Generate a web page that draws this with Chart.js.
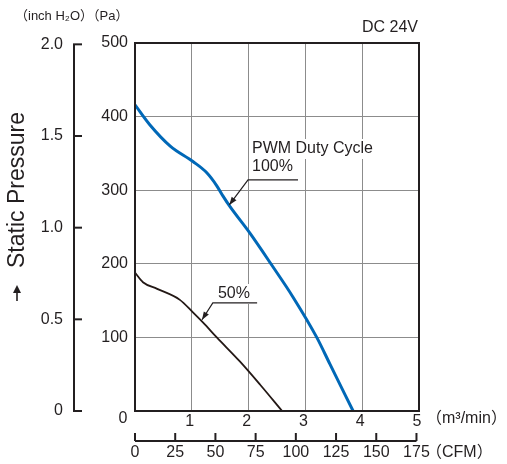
<!DOCTYPE html>
<html>
<head>
<meta charset="utf-8">
<script src="https://cdn.jsdelivr.net/npm/chart.js@4/dist/chart.umd.min.js"></script>
<style>
  body { margin: 0; background: #fff; }
  #wrap { width: 507px; height: 464px; }
</style>
</head>
<body>
<div id="wrap"><canvas id="pqChart" width="507" height="464"></canvas></div>
<script>
// airflow (m3/min) vs static pressure (Pa)
var flow100 = [0, 0.26, 0.62, 1.02, 1.26, 1.44, 1.55, 1.67, 2.02, 2.41, 2.78, 3.2, 3.43, 3.84];
var pres100 = [416, 389, 360, 339, 324, 306, 292, 278, 242, 198, 155, 100, 64, 0];
var flow50 = [0, 0.14, 0.39, 0.79, 1.02, 1.2, 1.44, 1.85, 2.2, 2.59];
var pres50 = [188, 175, 166, 151, 134, 120, 100, 67, 36, 0];

var cfmTicks = [0, 25, 50, 75, 100, 125, 150, 175];
var inchTicks = [0, 0.5, 1.0, 1.5, 2.0];
var CFM_PER_M3 = 35.3147;
var PA_PER_INCH = 249.089;

var FONT = '"Liberation Sans", Arial, "Noto Sans CJK JP", sans-serif';
var TXT = '#231f20';

function toPoints(xs, ys) {
    var pts = [];
    for (var i = 0; i < xs.length; i++) {
        pts.push({ x: xs[i], y: ys[i] });
    }
    return pts;
}

function arrowHead(ctx, tip, ang, len, w) {
    ctx.beginPath();
    ctx.moveTo(tip.x, tip.y);
    ctx.lineTo(tip.x - len * Math.cos(ang) + w * Math.sin(ang), tip.y - len * Math.sin(ang) - w * Math.cos(ang));
    ctx.lineTo(tip.x - len * Math.cos(ang) - w * Math.sin(ang), tip.y - len * Math.sin(ang) + w * Math.cos(ang));
    ctx.closePath();
    ctx.fill();
}

function leader(ctx, tip, elbow, endX) {
    ctx.strokeStyle = TXT;
    ctx.lineWidth = 1.2;
    ctx.beginPath();
    ctx.moveTo(endX, elbow.y);
    ctx.lineTo(elbow.x, elbow.y);
    ctx.lineTo(tip.x, tip.y);
    ctx.stroke();
    ctx.fillStyle = TXT;
    arrowHead(ctx, tip, Math.atan2(tip.y - elbow.y, tip.x - elbow.x), 8, 3);
}

function labelBox(ctx, text, x, y) {
    var w = ctx.measureText(text).width;
    ctx.fillStyle = '#fff';
    ctx.fillRect(x - 2, y - 10, w + 4, 20);
    ctx.fillStyle = TXT;
    ctx.fillText(text, x, y);
}

var extras = {
    id: 'extras',
    afterDatasetsDraw: function (chart) {
        var ctx = chart.ctx;
        var xs = chart.scales.x, ys = chart.scales.y;
        var a = chart.chartArea;
        ctx.save();

        // annotations
        ctx.font = '16px ' + FONT;
        ctx.textBaseline = 'middle';
        ctx.textAlign = 'left';
        labelBox(ctx, 'PWM Duty Cycle', xs.getPixelForValue(2.06), 149);
        labelBox(ctx, '100%', xs.getPixelForValue(2.06), 167);
        leader(ctx,
            { x: xs.getPixelForValue(1.66), y: ys.getPixelForValue(280) },
            { x: xs.getPixelForValue(1.99), y: ys.getPixelForValue(314) },
            xs.getPixelForValue(2.87));
        labelBox(ctx, '50%', xs.getPixelForValue(1.46), 294);
        leader(ctx,
            { x: xs.getPixelForValue(1.18), y: ys.getPixelForValue(124) },
            { x: xs.getPixelForValue(1.37), y: ys.getPixelForValue(147) },
            xs.getPixelForValue(2.15));

        // frame
        ctx.strokeStyle = TXT;
        ctx.lineWidth = 2;
        ctx.strokeRect(a.left, a.top, a.right - a.left, a.bottom - a.top);

        // shared zero
        ctx.fillStyle = TXT;
        ctx.font = '16px ' + FONT;
        ctx.textAlign = 'center';
        ctx.fillText('0', a.left - 12, a.bottom + 8);

        // CFM axis
        var cy = 441;
        var cx0 = xs.getPixelForValue(0);
        var cx1 = xs.getPixelForValue(cfmTicks[cfmTicks.length - 1] / CFM_PER_M3);
        ctx.lineWidth = 2;
        ctx.beginPath();
        ctx.moveTo(cx0, cy);
        ctx.lineTo(cx1, cy);
        ctx.stroke();
        ctx.textAlign = 'center';
        for (var i = 0; i < cfmTicks.length; i++) {
            var px = xs.getPixelForValue(cfmTicks[i] / CFM_PER_M3);
            ctx.beginPath();
            ctx.moveTo(px, cy);
            ctx.lineTo(px, cy - 8);
            ctx.stroke();
            ctx.fillText(String(cfmTicks[i]), px, cy + 12);
        }
        ctx.textAlign = 'left';
        ctx.fillText('（CFM）', 426, cy + 12);
        ctx.fillText('（m³/min）', 426, a.bottom + 8);

        // inch H2O axis
        var lx = 74;
        ctx.beginPath();
        ctx.moveTo(lx, ys.getPixelForValue(0));
        ctx.lineTo(lx, ys.getPixelForValue(inchTicks[inchTicks.length - 1] * PA_PER_INCH));
        ctx.stroke();
        ctx.textAlign = 'right';
        for (var j = 0; j < inchTicks.length; j++) {
            var py = ys.getPixelForValue(inchTicks[j] * PA_PER_INCH);
            ctx.beginPath();
            ctx.moveTo(lx - 1, py);
            ctx.lineTo(lx + 8, py);
            ctx.stroke();
            ctx.fillText(inchTicks[j] === 0 ? '0' : inchTicks[j].toFixed(1), 63, py);
        }

        // units
        ctx.font = '13px ' + FONT;
        ctx.textAlign = 'left';
        ctx.fillText('（inch H₂O）（Pa）', 15, 16);
        ctx.font = '16px ' + FONT;
        ctx.textAlign = 'right';
        ctx.fillText('DC 24V', 418, 28);

        // axis title with up arrow
        ctx.lineWidth = 1.6;
        ctx.beginPath();
        ctx.moveTo(17, 301);
        ctx.lineTo(17, 289);
        ctx.stroke();
        arrowHead(ctx, { x: 17, y: 285 }, -Math.PI / 2, 8, 4);
        ctx.translate(18, 0);
        ctx.rotate(-Math.PI / 2);
        ctx.textAlign = 'center';
        ctx.font = '23px ' + FONT;
        ctx.fillText('Static Pressure', -190, 0);
        ctx.restore();
    }
};

var ctx = document.getElementById('pqChart');
var pqChart = new Chart(ctx, {
    type: 'line',
    data: {
        datasets: [{
            label: '100%',
            data: toPoints(flow100, pres100),
            borderColor: '#0068b7',
            borderWidth: 3,
            pointRadius: 0,
            cubicInterpolationMode: 'monotone'
        }, {
            label: '50%',
            data: toPoints(flow50, pres50),
            borderColor: '#231815',
            borderWidth: 1.8,
            pointRadius: 0,
            cubicInterpolationMode: 'monotone'
        }]
    },
    options: {
        responsive: false,
        animation: false,
        layout: { padding: { top: 43, right: 88, left: 0, bottom: 0 } },
        plugins: { legend: { display: false }, tooltip: { enabled: false } },
        scales: {
            x: {
                type: 'linear',
                min: 0,
                max: 5,
                ticks: {
                    stepSize: 1,
                    padding: 1,
                    labelOffset: -2,
                    color: TXT,
                    font: { size: 16, family: FONT },
                    callback: function (v) { return v === 0 ? '' : v; }
                },
                grid: { color: '#8c8c8c', lineWidth: 1, drawTicks: false },
                border: { color: TXT, width: 2 },
                afterFit: function (s) { s.height = 53; }
            },
            y: {
                min: 0,
                max: 500,
                ticks: {
                    stepSize: 100,
                    padding: 7,
                    color: TXT,
                    font: { size: 16, family: FONT },
                    callback: function (v) { return v === 0 ? '' : v; }
                },
                grid: { color: '#8c8c8c', lineWidth: 1, drawTicks: false },
                border: { color: TXT, width: 2 },
                afterFit: function (s) { s.width = 135; }
            }
        }
    },
    plugins: [extras]
});
</script>
</body>
</html>
